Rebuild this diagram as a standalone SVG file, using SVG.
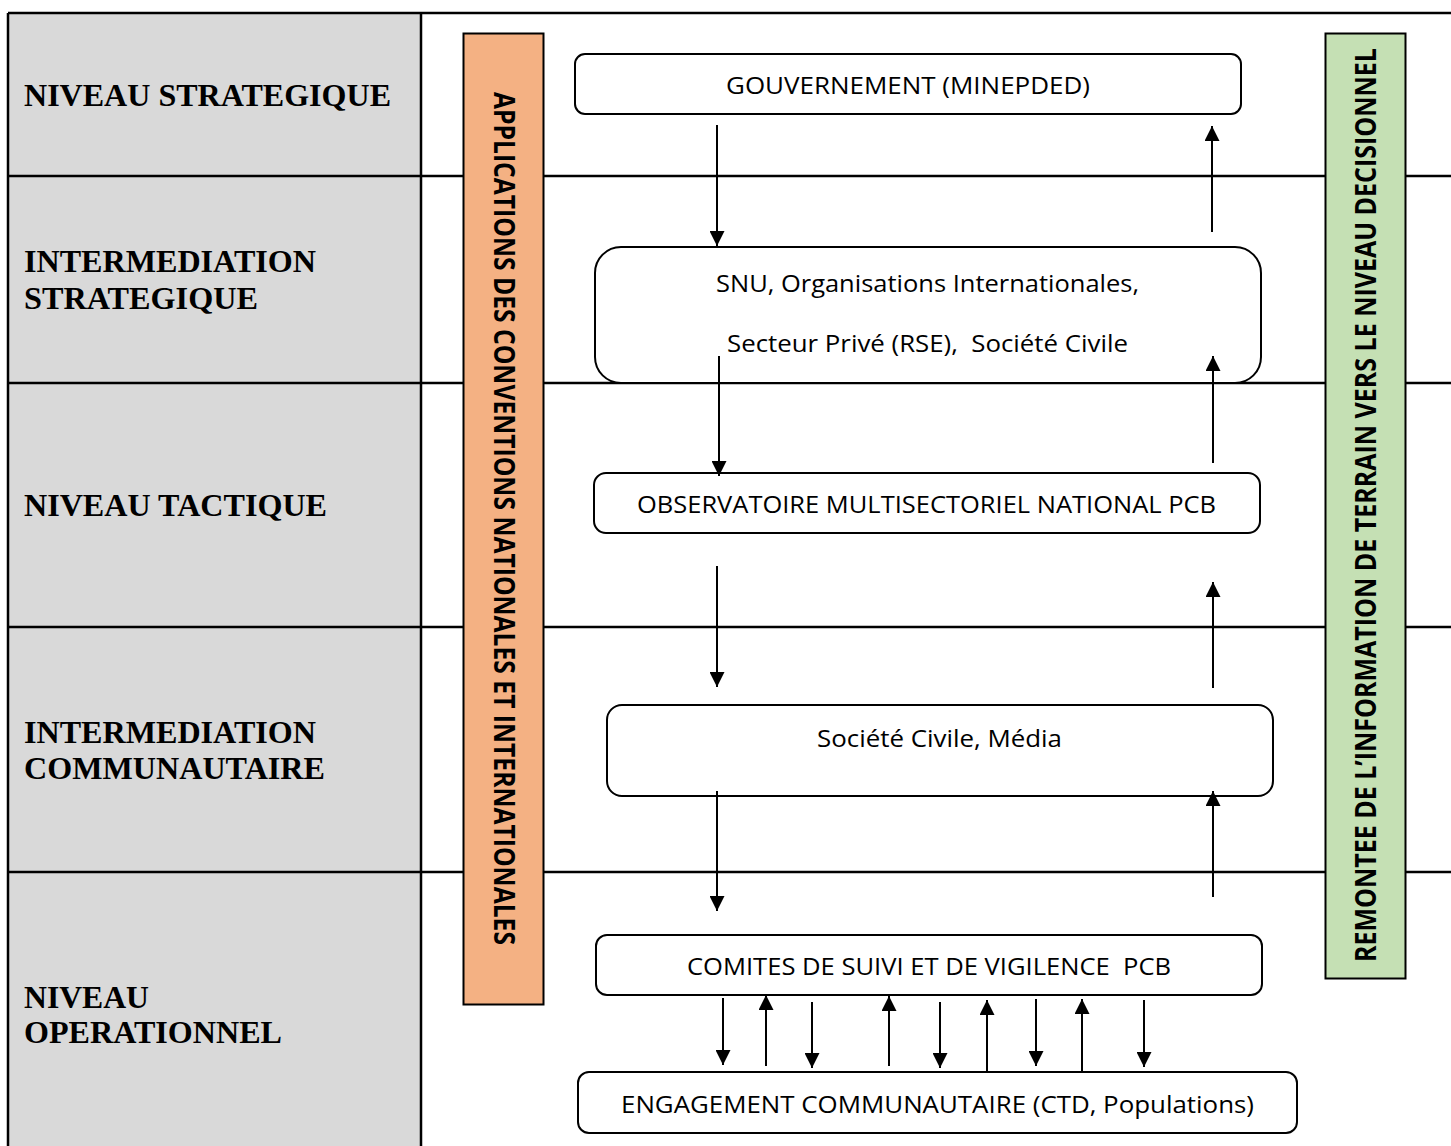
<svg xmlns="http://www.w3.org/2000/svg" width="1451" height="1146" viewBox="0 0 1451 1146">
<style>
.grid{stroke:#000;stroke-width:2.5;fill:none}
.lbl{font-family:"Liberation Serif","Times New Roman",serif;font-weight:bold;font-size:31px;fill:#000}
.box{fill:#fff;stroke:#000;stroke-width:2}
.bt{font-family:"Open Sans","Liberation Sans",sans-serif;font-size:23px;fill:#000;text-anchor:middle}
.bar{font-family:"Open Sans","Liberation Sans",sans-serif;font-weight:bold;font-size:28px;fill:#000;text-anchor:middle}
.arr{stroke:#000;stroke-width:2;fill:none;marker-end:url(#ah)}
</style>
<defs>
<marker id="ah" markerUnits="userSpaceOnUse" markerWidth="15" markerHeight="15" refX="15" refY="7.5" orient="auto" viewBox="0 0 15 15">
<path d="M0,0 L15,7.5 L0,15 z" fill="#000"/>
</marker>
</defs>
<rect width="1451" height="1146" fill="#fff"/>
<g id="table">
<rect x="8" y="13" width="413" height="1140" fill="#D9D9D9"/>
<line class="grid" x1="8" y1="13" x2="1451" y2="13"/>
<line class="grid" x1="8" y1="13" x2="8" y2="1146"/>
<line class="grid" x1="421" y1="13" x2="421" y2="1146"/>
<line class="grid" x1="8" y1="176" x2="1451" y2="176"/>
<line class="grid" x1="8" y1="383" x2="1451" y2="383"/>
<line class="grid" x1="8" y1="627" x2="1451" y2="627"/>
<line class="grid" x1="8" y1="872" x2="1451" y2="872"/>
</g>
<g id="labels">
<text class="lbl" x="24" y="106" textLength="367" lengthAdjust="spacingAndGlyphs">NIVEAU STRATEGIQUE</text>
<text class="lbl" x="24" y="272" textLength="292" lengthAdjust="spacingAndGlyphs">INTERMEDIATION</text>
<text class="lbl" x="24" y="309" textLength="234" lengthAdjust="spacingAndGlyphs">STRATEGIQUE</text>
<text class="lbl" x="24" y="516" textLength="303" lengthAdjust="spacingAndGlyphs">NIVEAU TACTIQUE</text>
<text class="lbl" x="24" y="743" textLength="292" lengthAdjust="spacingAndGlyphs">INTERMEDIATION</text>
<text class="lbl" x="24" y="779" textLength="301" lengthAdjust="spacingAndGlyphs">COMMUNAUTAIRE</text>
<text class="lbl" x="24" y="1008" textLength="125" lengthAdjust="spacingAndGlyphs">NIVEAU</text>
<text class="lbl" x="24" y="1043" textLength="258" lengthAdjust="spacingAndGlyphs">OPERATIONNEL</text>
</g>
<g id="bar-applications">
<rect x="463.5" y="33.5" width="80" height="971" fill="#F4B183" stroke="#000" stroke-width="2"/>
<text class="bar" transform="translate(504,518.5) rotate(90)" x="0" y="10" textLength="853" lengthAdjust="spacingAndGlyphs">APPLICATIONS DES CONVENTIONS NATIONALES ET INTERNATIONALES</text>
</g>
<g id="bar-remontee">
<rect x="1325.5" y="33.5" width="80" height="945" fill="#C5E0B4" stroke="#000" stroke-width="2"/>
<text class="bar" transform="translate(1366,505) rotate(-90)" x="0" y="10" textLength="914" lengthAdjust="spacingAndGlyphs">REMONTEE DE L’INFORMATION DE TERRAIN VERS LE NIVEAU DECISIONNEL</text>
</g>
<g id="gouvernement">
<rect class="box" x="575" y="54" width="666" height="60" rx="10"/>
<text class="bt" x="908" y="94" textLength="364" lengthAdjust="spacingAndGlyphs">GOUVERNEMENT (MINEPDED)</text>
</g>
<g id="snu">
<rect class="box" x="595" y="247" width="666" height="136" rx="26"/>
<text class="bt" x="927.5" y="292" textLength="423" lengthAdjust="spacingAndGlyphs">SNU, Organisations Internationales,</text>
<text class="bt" x="927.5" y="352" textLength="401" lengthAdjust="spacingAndGlyphs" xml:space="preserve">Secteur Privé (RSE),  Société Civile</text>
</g>
<g id="observatoire">
<rect class="box" x="594" y="473" width="666" height="60" rx="12"/>
<text class="bt" x="926.5" y="513" textLength="579" lengthAdjust="spacingAndGlyphs">OBSERVATOIRE MULTISECTORIEL NATIONAL PCB</text>
</g>
<g id="societe-civile">
<rect class="box" x="607" y="705" width="666" height="91" rx="15"/>
<text class="bt" x="939.5" y="747" textLength="245" lengthAdjust="spacingAndGlyphs">Société Civile, Média</text>
</g>
<g id="comites">
<rect class="box" x="596" y="935" width="666" height="60" rx="11"/>
<text class="bt" x="929" y="975" textLength="484" lengthAdjust="spacingAndGlyphs" xml:space="preserve">COMITES DE SUIVI ET DE VIGILENCE  PCB</text>
</g>
<g id="engagement">
<rect class="box" x="578" y="1072" width="719" height="61" rx="11"/>
<text class="bt" x="937.5" y="1113" textLength="633" lengthAdjust="spacingAndGlyphs">ENGAGEMENT COMMUNAUTAIRE (CTD, Populations)</text>
</g>
<g id="connectors">
<line class="arr" x1="717" y1="125" x2="717" y2="246"/>
<line class="arr" x1="1212" y1="232" x2="1212" y2="126"/>
<line class="arr" x1="719" y1="356" x2="719" y2="476"/>
<line class="arr" x1="1213" y1="463" x2="1213" y2="356"/>
<line class="arr" x1="717" y1="566" x2="717" y2="687"/>
<line class="arr" x1="1213" y1="688" x2="1213" y2="582"/>
<line class="arr" x1="717" y1="791" x2="717" y2="911"/>
<line class="arr" x1="1213" y1="897" x2="1213" y2="791"/>
<line class="arr" x1="723" y1="998" x2="723" y2="1065"/>
<line class="arr" x1="766" y1="1066" x2="766" y2="995"/>
<line class="arr" x1="812" y1="1002" x2="812" y2="1068"/>
<line class="arr" x1="889" y1="1066" x2="889" y2="996"/>
<line class="arr" x1="940" y1="1002" x2="940" y2="1068"/>
<line class="arr" x1="987" y1="1072" x2="987" y2="1000"/>
<line class="arr" x1="1036" y1="999" x2="1036" y2="1066"/>
<line class="arr" x1="1082" y1="1072" x2="1082" y2="999"/>
<line class="arr" x1="1144" y1="1000" x2="1144" y2="1067"/>
</g>
</svg>
